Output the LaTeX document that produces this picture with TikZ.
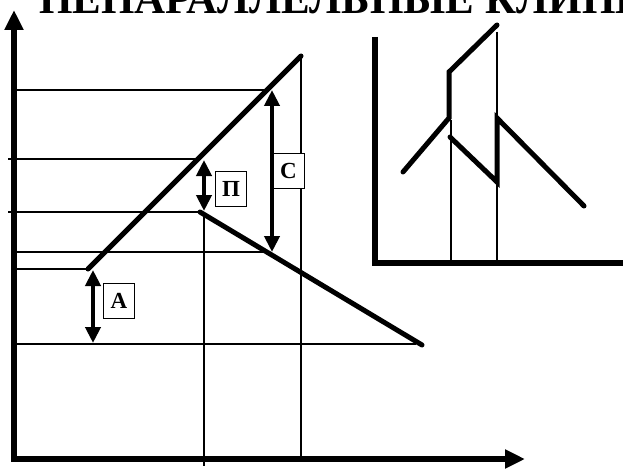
\documentclass[tikz,border=0pt]{standalone}
\usepackage{fontspec}
\setmainfont{Liberation Serif}
\usetikzlibrary{arrows.meta}
\begin{document}
\begin{tikzpicture}[x=1pt,y=-1pt,
  thinline/.style={line width=1.2pt},
  thickline/.style={line width=5pt, line cap=round},
  axisline/.style={line width=5.5pt},
  axisarrow/.style={line width=5.5pt, -{Triangle[width=18pt,length=20pt]}},
  dimarrow/.style={line width=4pt, {Triangle[width=15pt,length=16pt]}-{Triangle[width=15pt,length=16pt]}},
  lbl/.style={draw, line width=1pt, fill=white, minimum width=31pt, minimum height=35pt, inner sep=0pt, font=\bfseries\fontsize{23}{23}\selectfont}]
\useasboundingbox (0,0) rectangle (623,468);
\fill[white] (0,0) rectangle (623,468);
\clip (0,0) rectangle (623,468);

% title
\node[anchor=base west, inner sep=0pt, font=\bfseries\fontsize{43}{43}\selectfont] (title) at (39,14) {НЕПАРАЛЛЕЛЬНЫЕ КЛИНЬЯ};

% main axes
\coordinate (O) at (14,459);
\coordinate (ytop) at (14,10);
\coordinate (xend) at (525,459);
\draw[axisarrow] (14,461.75) -- (ytop);
\draw[axisarrow] (11.25,459) -- (xend);

% key points
\coordinate (r0) at (88,269);
\coordinate (r1) at (301,56);
\coordinate (d0) at (200,212);
\coordinate (d1) at (422,345);

% thin grid lines
\draw[thinline] (16,90) -- (270,90);
\draw[thinline] (8,159) -- (200,159);
\draw[thinline] (8,212) -- (d0);
\draw[thinline] (16,252) -- (270,252);
\draw[thinline] (16,269) -- (r0);
\draw[thinline] (16,344) -- (416,344);
\draw[thinline] (204,212) -- (204,466);
\draw[thinline] (r1) -- (301,459);

% thick lines
\draw[thickline] (r0) -- (r1);
\draw[thickline] (d0) -- (d1);

% dimension arrows
\coordinate (Ct) at (272,90);
\coordinate (Cb) at (272,252);
\coordinate (Pt) at (204,160);
\coordinate (Pb) at (204,211);
\coordinate (At) at (93,270);
\coordinate (Ab) at (93,343);
\draw[dimarrow] (Ct) -- (Cb);
\draw[dimarrow] (Pt) -- (Pb);
\draw[dimarrow] (At) -- (Ab);

\node[lbl] (C) at (288.5,171) {С};
\node[lbl] (P) at (231,189) {П};
\node[lbl] (A) at (119,301) {А};

% inset
\coordinate (io) at (375,263);
\draw[axisline] (375,37) -- (io) -- (625,263);
\draw[thinline] (451,120) -- (451,263);
\draw[thinline] (497,32) -- (497,263);
\draw[thickline, line join=miter] (403,172) -- (449,118) -- (449,72) -- (497,25);
\draw[thickline, line join=miter] (450,137) -- (497,182) -- (497,118) -- (584,206);
\end{tikzpicture}
\end{document}
